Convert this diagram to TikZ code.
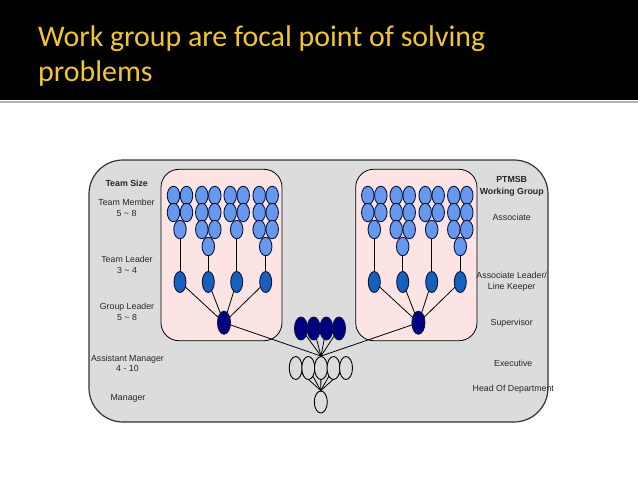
\documentclass[tikz,border=0pt]{standalone}
\usepackage{fontspec}
\setmainfont{Liberation Sans}
\newfontfamily\titlefont{Carlito}
\usetikzlibrary{shapes.geometric}
\definecolor{memberblue}{RGB}{102,153,238}
\definecolor{leaderblue}{RGB}{22,96,190}
\definecolor{navyblue}{RGB}{0,0,128}
\definecolor{edgecol}{RGB}{12,20,60}
\definecolor{pinkbox}{RGB}{252,228,228}
\definecolor{panelgrey}{RGB}{220,220,220}
\definecolor{titleyellow}{RGB}{240,198,48}
\pgfdeclarelayer{base}
\pgfdeclarelayer{wires}
\pgfsetlayers{base,wires,main}
\tikzset{
  oval/.style={ellipse, draw=edgecol, line width=0.9pt, inner sep=0pt},
  member/.style={oval, fill=memberblue, minimum width=12.5pt, minimum height=18.5pt},
  teamleader/.style={oval, fill=leaderblue, minimum width=12pt, minimum height=21pt},
  groupleader/.style={oval, fill=navyblue, minimum width=13pt, minimum height=23pt},
  execoval/.style={oval, draw=black, fill=panelgrey, minimum width=13pt, minimum height=23pt},
  wire/.style={draw=black, line width=0.8pt},
  lbl/.style={font=\fontsize{8.8}{10.8}\selectfont, align=center, inner sep=0pt, text=black!85},
  blbl/.style={lbl, font=\fontsize{8.8}{11.6}\selectfont\bfseries},
  titletext/.style={font=\titlefont\fontsize{29.9}{35}\selectfont, text=titleyellow, inner sep=0pt, anchor=base west},
  panel/.style={fill=panelgrey, draw=black!80, line width=1.2pt, rounded corners=34pt},
  groupbox/.style={fill=pinkbox, draw=black, line width=0.8pt, rounded corners=18pt}
}
\begin{document}
\begin{tikzpicture}[x=1pt,y=-1pt]
\useasboundingbox (0,0) rectangle (638,479);
\begin{pgfonlayer}{base}
  \fill[white] (0,0) rectangle (638,479);
  \fill[black] (0,0) rectangle (638,99.5);
  \draw[black!30, line width=1.2pt] (0,102) -- (638,102);
  \path[panel] (89,160) rectangle (548,422);
  \path[groupbox] (161,169.3) rectangle (282,340.7);
  \path[groupbox] (355.7,169.3) rectangle (477,340.7);
\end{pgfonlayer}

\node[titletext] (title1) at (38,46.5) {Work group are focal point of solving};
\node[titletext] (title2) at (38,81) {problems};

% member clusters
\foreach \gx/\n/\g in {180/3/a,208.3/4/b,236.7/3/c,265.7/4/d,374.3/3/e,402.7/4/f,431.7/3/g,460.3/4/h}{
  \pgfmathtruncatemacro{\np}{\n-1}
  \foreach \r in {1,...,\np}{
    \node[member] (\g-\r-l) at ({\gx-6.5},{195.5+(\r-1)*17}) {};
    \node[member] (\g-\r-r) at ({\gx+6.5},{195.5+(\r-1)*17}) {};
  }
  \node[member] (\g-tip) at (\gx,{195.5+(\n-1)*17}) {};
  \node[teamleader] (\g-tl) at (\gx,282) {};
  \begin{pgfonlayer}{wires}
    \draw[wire] (\g-tip.center) -- (\g-tl.center);
  \end{pgfonlayer}
}

\node[groupleader] (supL) at (224,322.7) {};
\node[groupleader] (supR) at (418.4,322.7) {};

\foreach \i/\x in {1/301,2/313.7,3/326.3,4/339}{
  \node[groupleader] (dk\i) at (\x,328.5) {};
}
\foreach \i/\x in {1/295.7,2/308.3,3/321,4/333.5,5/346}{
  \node[execoval] (ex\i) at (\x,368) {};
}
\node[execoval, minimum height=22pt] (head) at (320.8,402) {};

\begin{pgfonlayer}{wires}
  \foreach \g in {a,b,c,d}{\draw[wire] (\g-tl.center) -- (supL.center);}
  \foreach \g in {e,f,g,h}{\draw[wire] (\g-tl.center) -- (supR.center);}
  \draw[wire] (supL.center) -- (ex3.north);
  \draw[wire] (supR.center) -- (ex3.north);
  \foreach \i in {1,...,4}{\draw[wire] (dk\i.center) -- (ex3.north);}
  \foreach \i in {1,...,5}{\draw[wire] (ex\i.center) -- (head.north);}
\end{pgfonlayer}

% left labels
\node[blbl] (tsize) at (126.7,183.3) {Team Size};
\node[lbl] (tmem) at (126.5,207.5) {Team Member\\5 \textasciitilde{} 8};
\node[lbl] (tlead) at (127,265) {Team Leader\\3 \textasciitilde{} 4};
\node[lbl] (glead) at (127,311.7) {Group Leader\\5 \textasciitilde{} 8};
\node[lbl] (asman) at (127.5,363.3) {Assistant Manager\\4 - 10};
\node[lbl] (mgr) at (128,398.3) {Manager};

% right labels
\node[blbl] (ptmsb) at (511.7,186.5) {PTMSB\\Working Group};
\node[lbl] (assoc) at (511.7,217.3) {Associate};
\node[lbl] (aslead) at (511.7,282) {Associate Leader/\\Line Keeper};
\node[lbl] (superv) at (511.7,323.3) {Supervisor};
\node[lbl] (execl) at (513.3,363.3) {Executive};
\node[lbl] (hod) at (513.3,389.3) {Head Of Department};
\end{tikzpicture}
\end{document}
